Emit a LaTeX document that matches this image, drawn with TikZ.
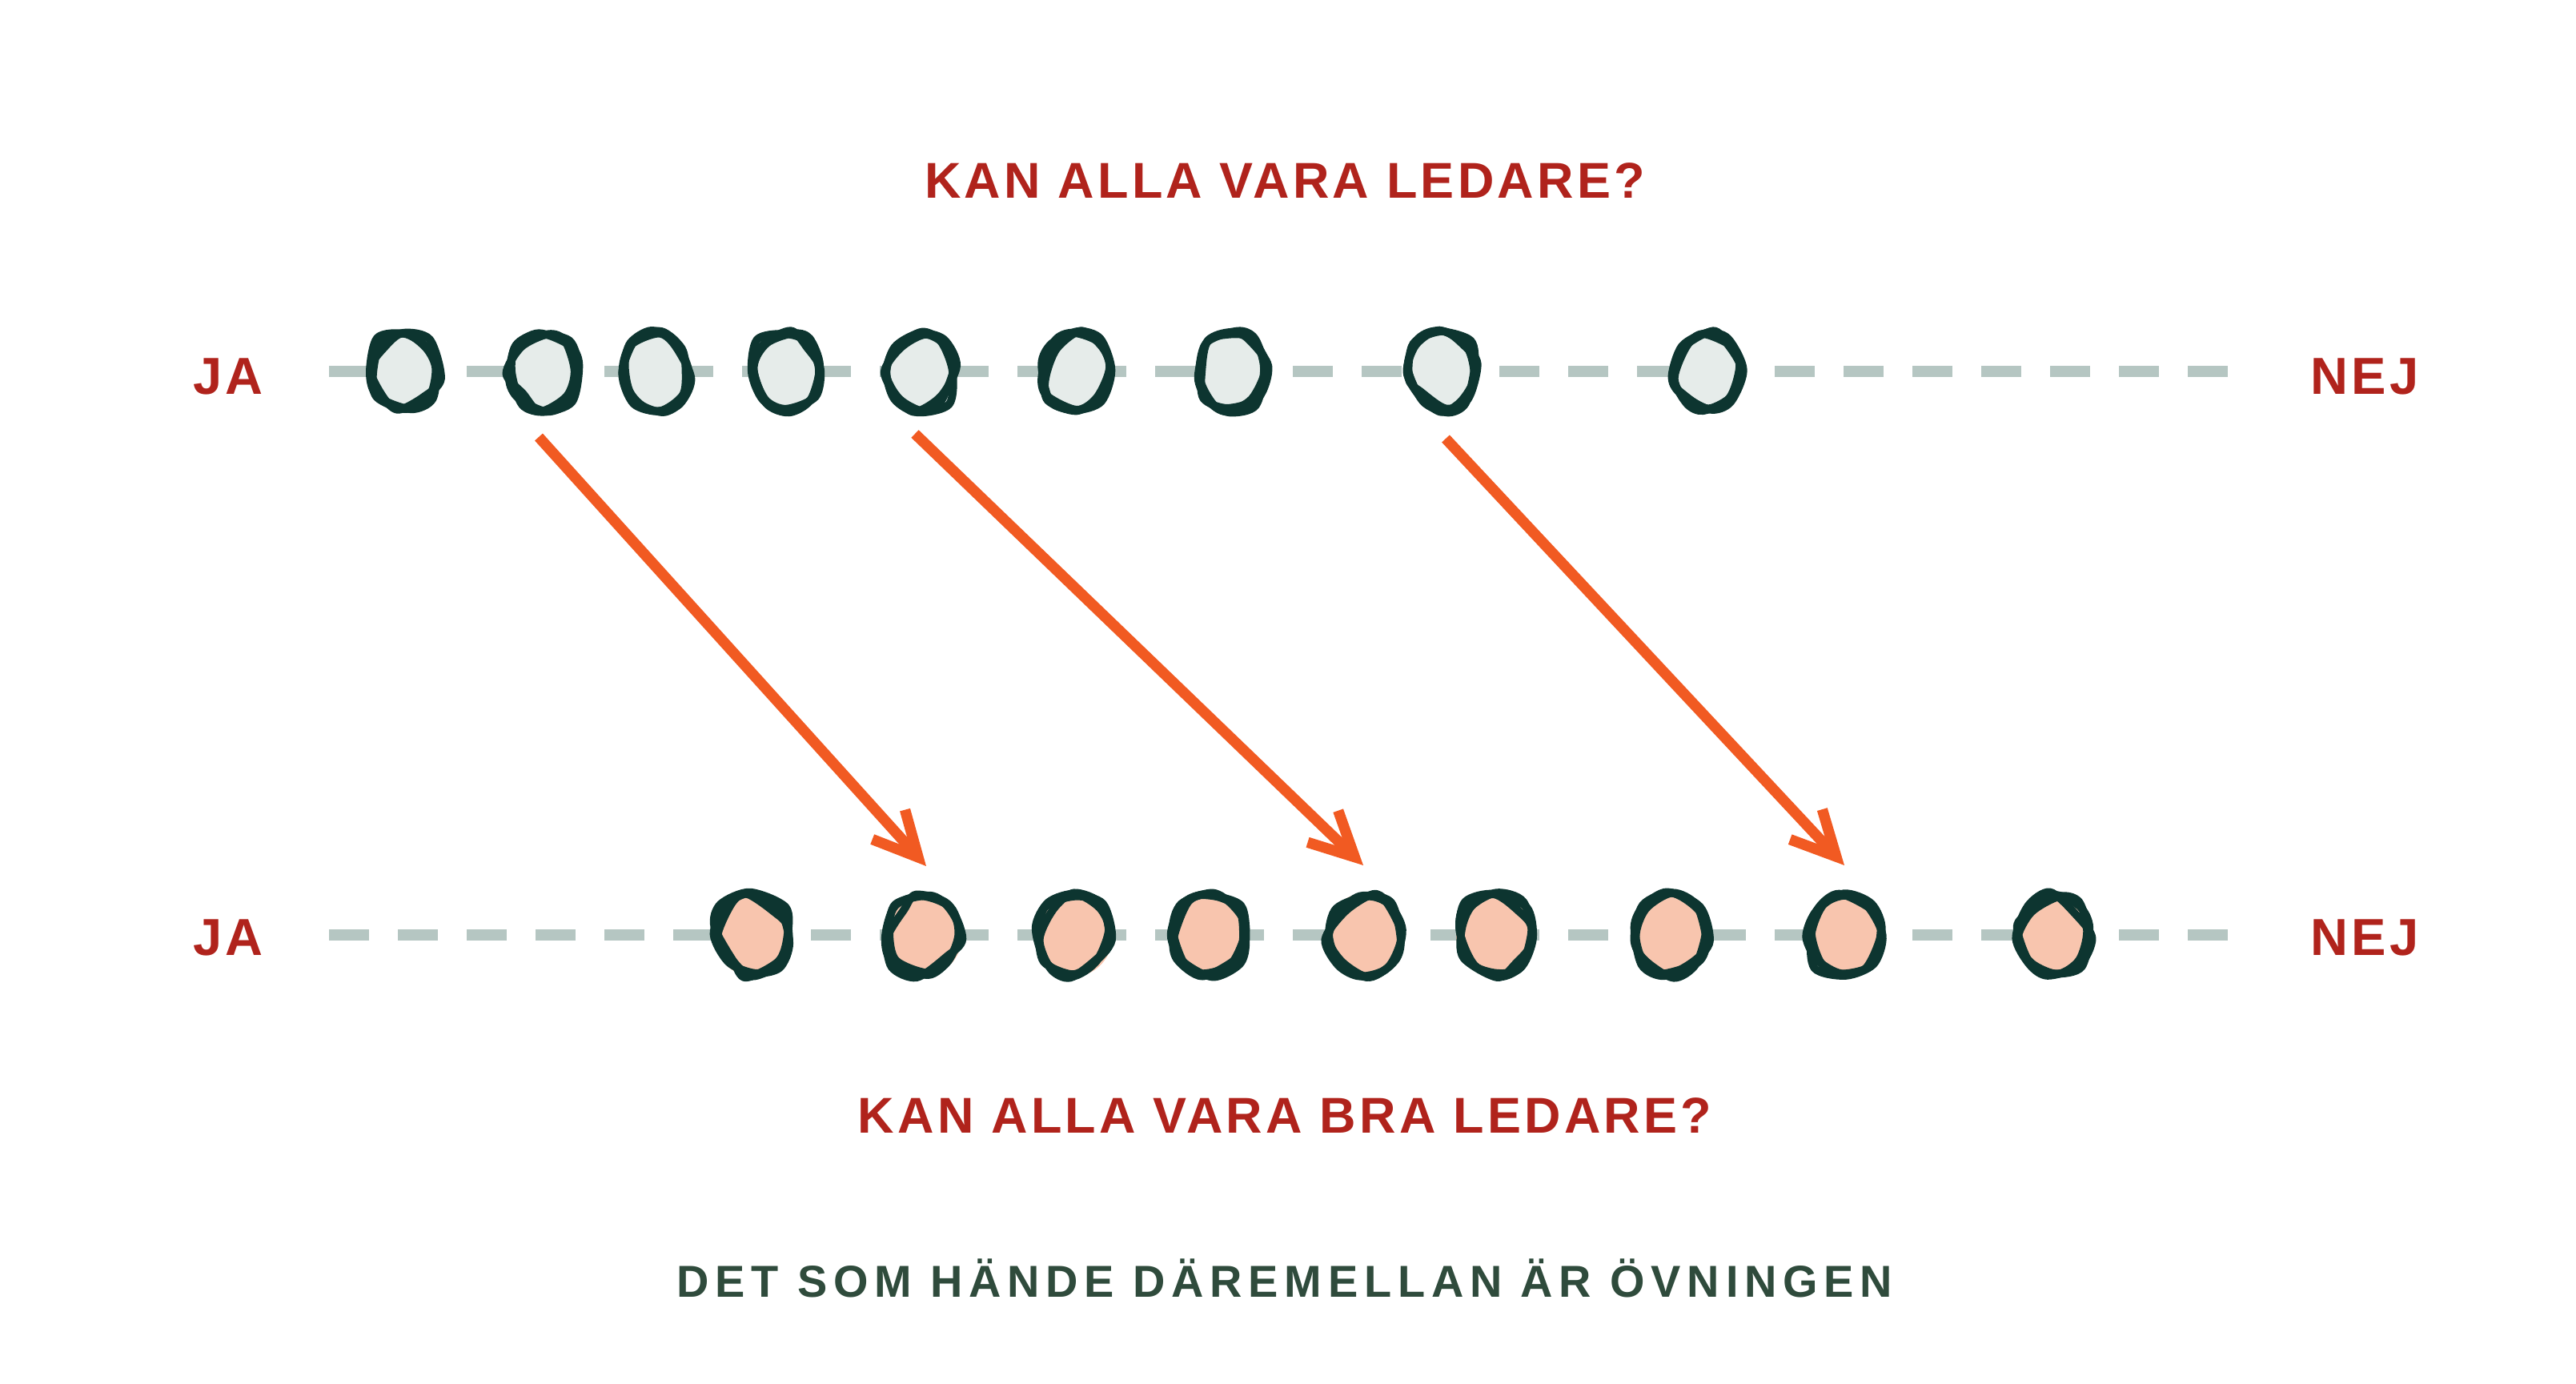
\documentclass[tikz,border=0pt]{standalone}
\usepackage{fontspec}
\setmainfont{Liberation Sans}
\newfontfamily\askfont{Liberation Sans}[LetterSpace=6.8]
\newfontfamily\notefont{Liberation Sans}[LetterSpace=13.9]
\usetikzlibrary{arrows.meta,shapes.geometric}

\definecolor{askred}{HTML}{B0231C}
\definecolor{notegreen}{HTML}{2F4B3C}
\definecolor{pushorange}{HTML}{F15A22}
\definecolor{scalegrey}{HTML}{B5C6C2}
\definecolor{inkgreen}{HTML}{0D3530}
\definecolor{beforefill}{HTML}{E6ECEA}
\definecolor{afterfill}{HTML}{F8C5AE}

\tikzset{
  question/.style={text=askred,font=\askfont\bfseries\fontsize{17.9pt}{20pt}\selectfont,anchor=base,inner sep=0pt},
  scaleend/.style={text=askred,font=\askfont\bfseries\fontsize{18.5pt}{20pt}\selectfont,anchor=base,inner sep=0pt},
  scaleline/.style={draw=scalegrey,line width=4pt,dash pattern=on 0.5cm off 0.36cm},
  beforedot/.style={ellipse,fill=beforefill,minimum width=0.86cm,minimum height=1.0cm,inner sep=0pt},
  afterdot/.style={ellipse,fill=afterfill,minimum width=0.98cm,minimum height=1.04cm,inner sep=0pt},
  scribble/.style={draw=inkgreen,line width=2.8pt,line join=round,line cap=round},
  push/.style={draw=pushorange,line width=3.8pt,-{Straight Barb[length=5.5mm,width=5.5mm]}}
}

\begin{document}
\begin{tikzpicture}
\useasboundingbox (0,0) rectangle (32.18,17.28);
\pgfmathsetseed{21}

% The questions
\node[question] (ask1) at (16.05,14.80) {KAN ALLA VARA LEDARE?};
\node[question] (ask2) at (16.05,3.13) {KAN ALLA VARA BRA LEDARE?};
\node[text=notegreen,font=\notefont\bfseries\fontsize{15.9pt}{18pt}\selectfont,anchor=base,inner sep=0pt] (note) at (16.05,1.08) {DET SOM HÄNDE DÄREMELLAN ÄR ÖVNINGEN};

% The two scales
\node[scaleend] (ja1) at (2.85,12.35) {JA};
\node[scaleend] (nej1) at (29.54,12.35) {NEJ};
\node[scaleend] (ja2) at (2.85,5.35) {JA};
\node[scaleend] (nej2) at (29.54,5.35) {NEJ};
\coordinate (s1) at (4.11,12.64);
\coordinate (e1) at (27.91,12.64);
\coordinate (s2) at (4.11,5.60);
\coordinate (e2) at (27.91,5.60);
\draw[scaleline] (s1) -- (e1);
\draw[scaleline] (s2) -- (e2);

% Dots before
\foreach \x [count=\i] in {5.06,6.78,8.19,9.84,11.50,13.44,15.39,18.01,21.32}
{
  \node[beforedot] (t\i) at (\x,12.64) {};
  \foreach \k in {1,2,3}
    \draw[scribble,shift={(\x,12.64)}] plot[smooth cycle,samples=8,domain=0:315,variable=\a]
      ({(0.42+0.04*rand)*cos(\a+12*rand)},{(0.49+0.03*rand)*sin(\a+12*rand)});
}

% Dots after
\foreach \x [count=\i] in {9.41,11.53,13.41,15.11,17.05,18.68,20.86,23.05,25.65}
{
  \node[afterdot] (b\i) at (\x,5.60) {};
  \foreach \k in {1,2,3}
    \draw[scribble,shift={(\x,5.60)}] plot[smooth cycle,samples=8,domain=0:315,variable=\a]
      ({(0.46+0.04*rand)*cos(\a+12*rand)},{(0.51+0.03*rand)*sin(\a+12*rand)});
}

% Arrows from before to after
\draw[push] ([shift={(-0.05,-0.82)}]t2.center) -- ([shift={(0.04,0.86)}]b2.center);
\draw[push] ([shift={(-0.07,-0.78)}]t5.center) -- ([shift={(-0.02,0.87)}]b5.center);
\draw[push] ([shift={(0.05,-0.84)}]t8.center) -- ([shift={(-0.01,0.87)}]b8.center);

\end{tikzpicture}
\end{document}
